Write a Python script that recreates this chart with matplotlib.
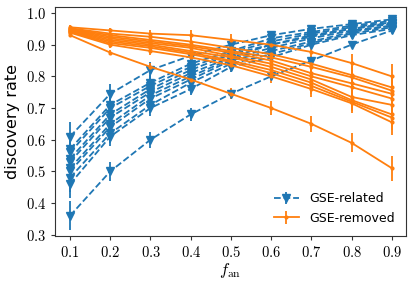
import numpy as np
import matplotlib
matplotlib.use("Agg")
import matplotlib.pyplot as plt
from matplotlib.ticker import FuncFormatter

plt.rcParams['mathtext.fontset'] = 'cm'

f_an = [0.1, 0.2, 0.3, 0.4, 0.5, 0.6, 0.7, 0.8, 0.9]

# GSE-related runs (rows = runs, cols = f_an)
related = [
    [0.61, 0.745, 0.82, 0.865, 0.90, 0.93, 0.95, 0.965, 0.98],
    [0.57, 0.71, 0.78, 0.84, 0.88, 0.92, 0.94, 0.96, 0.975],
    [0.56, 0.70, 0.77, 0.83, 0.875, 0.91, 0.935, 0.955, 0.97],
    [0.54, 0.68, 0.76, 0.82, 0.87, 0.90, 0.93, 0.95, 0.97],
    [0.53, 0.67, 0.75, 0.81, 0.86, 0.90, 0.925, 0.95, 0.965],
    [0.51, 0.65, 0.74, 0.80, 0.855, 0.89, 0.92, 0.945, 0.96],
    [0.50, 0.64, 0.73, 0.79, 0.85, 0.88, 0.91, 0.94, 0.96],
    [0.48, 0.62, 0.71, 0.78, 0.84, 0.87, 0.905, 0.935, 0.955],
    [0.46, 0.61, 0.70, 0.76, 0.83, 0.86, 0.90, 0.93, 0.95],
    [0.36, 0.50, 0.60, 0.68, 0.745, 0.80, 0.85, 0.90, 0.945],
]
related_err = [0.045, 0.03, 0.025, 0.02, 0.016, 0.013, 0.011, 0.009, 0.007]

# GSE-removed runs
removed = [
    [0.955, 0.945, 0.935, 0.93, 0.915, 0.90, 0.877, 0.842, 0.80],
    [0.952, 0.935, 0.925, 0.91, 0.89, 0.87, 0.84, 0.804, 0.765],
    [0.95, 0.93, 0.915, 0.90, 0.88, 0.86, 0.83, 0.797, 0.755],
    [0.948, 0.925, 0.91, 0.895, 0.875, 0.85, 0.81, 0.778, 0.745],
    [0.946, 0.92, 0.905, 0.89, 0.865, 0.84, 0.80, 0.766, 0.73],
    [0.944, 0.915, 0.90, 0.88, 0.86, 0.83, 0.79, 0.735, 0.71],
    [0.942, 0.91, 0.895, 0.875, 0.85, 0.82, 0.78, 0.725, 0.68],
    [0.94, 0.905, 0.89, 0.87, 0.845, 0.81, 0.77, 0.72, 0.67],
    [0.938, 0.90, 0.88, 0.86, 0.835, 0.80, 0.76, 0.715, 0.655],
    [0.93, 0.875, 0.83, 0.79, 0.745, 0.70, 0.65, 0.59, 0.51],
]
removed_err = [0.006, 0.009, 0.012, 0.015, 0.018, 0.021, 0.025, 0.03, 0.04]

fig = plt.figure(figsize=(4.15, 2.86), dpi=100)
ax = fig.add_axes([0.1325, 0.175, 0.8455, 0.8005])

for i, row in enumerate(related):
    ax.errorbar(f_an, row, yerr=related_err, color="#1f77b4", ls="--", marker="v",
                ms=6, lw=1.3, label="GSE-related" if i == 0 else None)
for i, row in enumerate(removed):
    ax.errorbar(f_an, row, yerr=removed_err, color="#ff7f0e", ls="-", marker=".",
                ms=4, lw=1.3, label="GSE-removed" if i == 0 else None)

ax.set_xlim(0.0625, 0.935)
ax.set_ylim(0.296, 1.019)
ax.set_xticks(f_an)
ax.set_yticks([0.3, 0.4, 0.5, 0.6, 0.7, 0.8, 0.9, 1.0])
fmt = FuncFormatter(lambda v, p: r"$%.1f$" % v)
ax.xaxis.set_major_formatter(fmt)
ax.yaxis.set_major_formatter(fmt)
ax.tick_params(labelsize=10.5, length=3, color="#333333")
for s in ax.spines.values():
    s.set_color("#333333")
ax.set_xlabel(r"$f_{\rm an}$", fontsize=12, labelpad=1)
ax.set_ylabel("discovery rate", fontsize=11.5)
ax.legend(loc="lower right", frameon=False, fontsize=9)

fig.savefig("out.png", dpi=100)
